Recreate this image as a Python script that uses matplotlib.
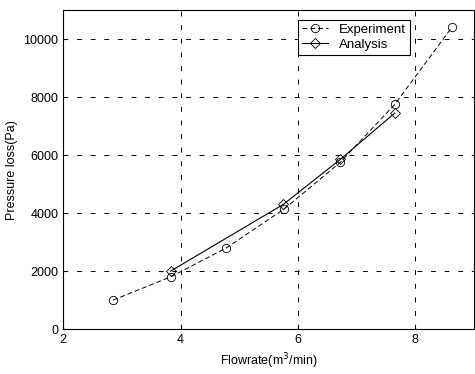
import matplotlib
matplotlib.use('Agg')
import matplotlib.pyplot as plt

plt.rcParams['font.family'] = ['Liberation Sans', 'DejaVu Sans']

# experiment (circles)
exp_q = [2.85, 3.83, 4.78, 5.77, 6.72, 7.65, 8.62]
exp_p = [1000, 1800, 2800, 4150, 5750, 7750, 10400]
# analysis (diamonds)
ana_q = [3.83, 5.75, 6.72, 7.65]
ana_p = [2000, 4300, 5850, 7450]

xticks = [2, 4, 6, 8]
yticks = [0, 2000, 4000, 6000, 8000, 10000]

fig = plt.figure(figsize=(4.75, 3.74), dpi=100)
ax = fig.add_axes([0.133, 0.120, 0.865, 0.853])

ax.plot(exp_q, exp_p, color='k', ls=(0, (5, 3)), lw=0.7, marker='o', ms=6,
        mfc='none', mec='k', mew=0.6, label='Experiment')
ax.plot(ana_q, ana_p, color='k', ls='-', lw=0.8, marker='D', ms=5,
        mfc='none', mec='k', mew=0.6, label='Analysis')

ax.set_xlim(2, 9)
ax.set_ylim(0, 11000)
ax.set_xticks(xticks)
ax.set_yticks(yticks)
ax.tick_params(direction='in', labelsize=9, length=3)
ax.grid(True, color='k', ls=(0, (5, 9)), lw=0.7)
ax.set_xlabel('Flowrate(m$^3$/min)', fontsize=9)
ax.set_ylabel('Pressure loss(Pa)', fontsize=9)

leg = ax.legend(loc='upper right', bbox_to_anchor=(0.86, 0.99), fontsize=9.5,
                fancybox=False, framealpha=1, edgecolor='k',
                handlelength=2.0, borderpad=0.3, labelspacing=0.2)
leg.get_frame().set_linewidth(0.8)

fig.savefig('out.png', dpi=100)
